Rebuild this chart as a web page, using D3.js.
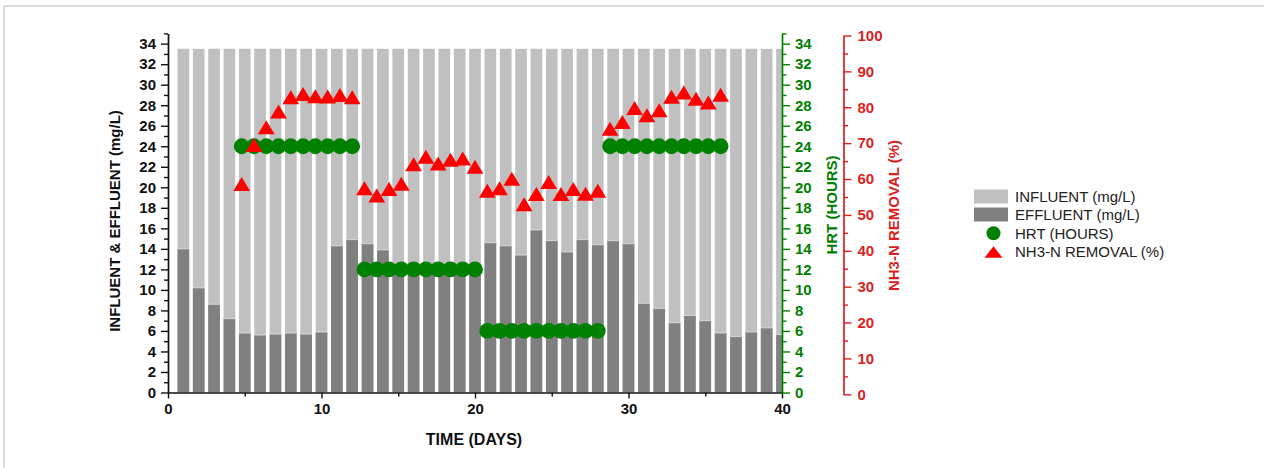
<!DOCTYPE html>
<html><head><meta charset="utf-8">
<script src="https://cdn.jsdelivr.net/npm/d3@7/dist/d3.min.js"></script>
<style>
body{margin:0;background:#fff}
svg{display:block}
text{font-family:"Liberation Sans",Arial,Helvetica,sans-serif}
</style>
</head><body>
<svg id="c" width="1264" height="468"></svg>
<script>
// ---- data ----
const days = [1,2,3,4,5,6,7,8,9,10,11,12,13,14,15,16,17,18,19,20,21,22,23,24,25,26,27,28,29,30,31,32,33,34,35,36,37,38,39,40];
const influent = [33.5,33.5,33.5,33.5,33.5,33.5,33.5,33.5,33.5,33.5,33.5,33.5,33.5,33.5,33.5,33.5,33.5,33.5,33.5,33.5,33.5,33.5,33.5,33.5,33.5,33.5,33.5,33.5,33.5,33.5,33.5,33.5,33.5,33.5,33.5,33.5,33.5,33.5,33.5,33.5];
const effluent = [14.0,10.2,8.6,7.2,5.8,5.6,5.7,5.8,5.7,5.9,14.3,14.9,14.5,13.9,12.3,12.1,12.4,12.2,12.3,12.0,14.6,14.3,13.4,15.85,14.8,13.7,14.9,14.4,14.8,14.5,8.7,8.2,6.8,7.5,7.0,5.8,5.45,5.9,6.3,5.65];
const pointDays = [4.8,5.6,6.4,7.2,8.0,8.8,9.6,10.4,11.2,12.0,12.8,13.6,14.4,15.2,16.0,16.8,17.6,18.4,19.2,20.0,20.8,21.6,22.4,23.2,24.0,24.8,25.6,26.4,27.2,28.0,28.8,29.6,30.4,31.2,32.0,32.8,33.6,34.4,35.2,36.0];
const hrt = [24,24,24,24,24,24,24,24,24,24,12,12,12,12,12,12,12,12,12,12,6,6,6,6,6,6,6,6,6,6,24,24,24,24,24,24,24,24,24,24];
const removal = [58.6,69.5,74.4,78.8,82.8,83.7,83.1,83.0,83.4,82.8,57.4,55.4,57.2,58.7,64.1,66.2,64.3,65.4,65.7,63.4,56.7,57.4,60.1,53.0,55.8,59.2,55.8,57.2,55.9,56.7,74.0,75.9,79.8,77.8,79.2,82.9,84.1,82.4,81.3,83.5];
const xTicks = [0,10,20,30,40];
const xMinor = [5,15,25,35];
const leftTicks = [0,2,4,6,8,10,12,14,16,18,20,22,24,26,28,30,32,34];
const leftMinor = [1,3,5,7,9,11,13,15,17,19,21,23,25,27,29,31,33,35];
const redTicks = [0,10,20,30,40,50,60,70,80,90,100];
const redMinor = [5,15,25,35,45,55,65,75,85,95];
const legendLabels = ["INFLUENT (mg/L)","EFFLUENT (mg/L)","HRT (HOURS)","NH3-N REMOVAL (%)"];

// ---- styles ----
const LIGHT="#c0c0c0", DARK="#808080", GREEN="#008000", RED="#ff0000", RED_AX="#dc1e1e";

const svg = d3.select("#c");
// outer frame (top/left)
svg.append("line").attr("x1",4).attr("x2",1264).attr("y1",6).attr("y2",6).attr("stroke","#cfcfcf").attr("stroke-width",1.5);
svg.append("line").attr("x1",4).attr("x2",4).attr("y1",6).attr("y2",468).attr("stroke","#cfcfcf").attr("stroke-width",1.5);

const x = d3.scaleLinear().domain([0,40]).range([168,782]);
const yL = d3.scaleLinear().domain([0,35]).range([392.5,33.4]);
const yG = d3.scaleLinear().domain([0,35]).range([392.5,33.4]);
const yR = d3.scaleLinear().domain([0,100]).range([394.3,35.5]);

const bw = x(0.76)-x(0);
svg.append("clipPath").attr("id","plotclip").append("rect")
  .attr("x",x(0)).attr("y",0).attr("width",x(40)-x(0)).attr("height",yL(0));

const gb = svg.append("g").attr("clip-path","url(#plotclip)");
gb.selectAll("rect.inf").data(days).join("rect").attr("class","inf")
  .attr("x",(d)=>x(d)-bw/2).attr("width",bw)
  .attr("y",(d,i)=>yL(influent[i])).attr("height",(d,i)=>yL(0)-yL(influent[i]))
  .attr("fill",LIGHT);
gb.selectAll("rect.eff").data(days).join("rect").attr("class","eff")
  .attr("x",(d)=>x(d)-bw/2).attr("width",bw)
  .attr("y",(d,i)=>yL(effluent[i])).attr("height",(d,i)=>yL(0)-yL(effluent[i]))
  .attr("fill",DARK);
gb.selectAll("line.eff").data(days).join("line").attr("class","eff")
  .attr("x1",(d)=>x(d)-bw/2).attr("x2",(d)=>x(d)+bw/2)
  .attr("y1",(d,i)=>yL(effluent[i])).attr("y2",(d,i)=>yL(effluent[i]))
  .attr("stroke","#e6e6e6").attr("stroke-width",0.8);

// HRT circles
svg.append("g").selectAll("circle").data(pointDays).join("circle")
  .attr("cx",(d)=>x(d)).attr("cy",(d,i)=>yG(hrt[i])).attr("r",7.9).attr("fill",GREEN);

// removal triangles
const tri = "M0,-7L8.4,7L-8.4,7Z";
svg.append("g").selectAll("path").data(pointDays).join("path")
  .attr("d",tri).attr("transform",(d,i)=>`translate(${x(d)},${yR(removal[i])})`).attr("fill",RED);

// ---- axes ----
const FS = "15px";
function styleAxis(g,color,fs){
  g.select(".domain").attr("stroke",color).attr("stroke-width",1.7);
  g.selectAll(".tick line").attr("stroke",color).attr("stroke-width",1.4);
  g.selectAll(".tick text").attr("fill",color).attr("font-size",fs).attr("font-weight","bold");
}
// left
const gl = svg.append("g").attr("transform",`translate(${x(0)},0)`);
gl.call(d3.axisLeft(yL).tickValues(leftTicks).tickFormat(d3.format("d")).tickSize(7).tickPadding(5).tickSizeOuter(0));
styleAxis(gl,"#111",FS);
const glm = svg.append("g").attr("transform",`translate(${x(0)},0)`);
glm.call(d3.axisLeft(yL).tickValues(leftMinor).tickFormat("").tickSize(4).tickSizeOuter(0));
glm.select(".domain").remove(); glm.selectAll(".tick line").attr("stroke","#111").attr("stroke-width",1.4);

// bottom
const gx = svg.append("g").attr("transform",`translate(0,${yL(0)})`);
gx.call(d3.axisBottom(x).tickValues(xTicks).tickFormat(d3.format("d")).tickSize(6).tickPadding(5).tickSizeOuter(0));
styleAxis(gx,"#111",FS);
const gxm = svg.append("g").attr("transform",`translate(0,${yL(0)})`);
gxm.call(d3.axisBottom(x).tickValues(xMinor).tickFormat("").tickSize(4).tickSizeOuter(0));
gxm.select(".domain").remove(); gxm.selectAll(".tick line").attr("stroke","#111").attr("stroke-width",1.4);

// green right axis
const gg = svg.append("g").attr("transform",`translate(${x(40)},0)`);
gg.call(d3.axisRight(yG).tickValues(leftTicks).tickFormat(d3.format("d")).tickSize(8).tickPadding(5).tickSizeOuter(0));
styleAxis(gg,GREEN,FS);
const ggm = svg.append("g").attr("transform",`translate(${x(40)},0)`);
ggm.call(d3.axisRight(yG).tickValues(leftMinor).tickFormat("").tickSize(4.5).tickSizeOuter(0));
ggm.select(".domain").remove(); ggm.selectAll(".tick line").attr("stroke",GREEN).attr("stroke-width",1.4);

// red right axis
const gr = svg.append("g").attr("transform",`translate(843.5,0)`);
gr.call(d3.axisRight(yR).tickValues(redTicks).tickFormat(d3.format("d")).tickSize(8).tickPadding(6).tickSizeOuter(0));
styleAxis(gr,RED_AX,FS);
const grm = svg.append("g").attr("transform",`translate(843.5,0)`);
grm.call(d3.axisRight(yR).tickValues(redMinor).tickFormat("").tickSize(4.5).tickSizeOuter(0));
grm.select(".domain").remove(); grm.selectAll(".tick line").attr("stroke",RED_AX).attr("stroke-width",1.4);

// ---- axis titles ----
svg.append("text").attr("transform","translate(120,221) rotate(-90)").attr("text-anchor","middle")
  .attr("font-size","15px").attr("font-weight","bold").attr("fill","#111").text("INFLUENT & EFFLUENT (mg/L)");
svg.append("text").attr("x",474).attr("y",445).attr("text-anchor","middle")
  .attr("font-size","16px").attr("font-weight","bold").attr("fill","#111").text("TIME (DAYS)");
svg.append("text").attr("transform","translate(837,205) rotate(-90)").attr("text-anchor","middle")
  .attr("font-size","15px").attr("font-weight","bold").attr("fill",GREEN).text("HRT (HOURS)");
svg.append("text").attr("transform","translate(899,215.5) rotate(-90)").attr("text-anchor","middle")
  .attr("font-size","15px").attr("font-weight","bold").attr("fill",RED_AX).text("NH3-N  REMOVAL (%)");

// ---- legend ----
const lg = svg.append("g");
lg.append("rect").attr("x",974).attr("y",189.5).attr("width",34).attr("height",14).attr("fill",LIGHT);
lg.append("rect").attr("x",974).attr("y",207.5).attr("width",34).attr("height",14).attr("fill",DARK);
lg.append("circle").attr("cx",993.5).attr("cy",233.3).attr("r",7).attr("fill",GREEN);
lg.append("path").attr("d","M0,-5.8L9,5.8L-9,5.8Z").attr("transform","translate(993.5,252)").attr("fill",RED);
const rowsY = [196.5,214.8,233.2,251.6];
lg.selectAll("text").data(legendLabels).join("text")
  .attr("x",1015).attr("y",(d,i)=>rowsY[i]).attr("dy","0.36em")
  .attr("font-size","15px").attr("fill","#222").text(d=>d);
</script>
</body></html>
